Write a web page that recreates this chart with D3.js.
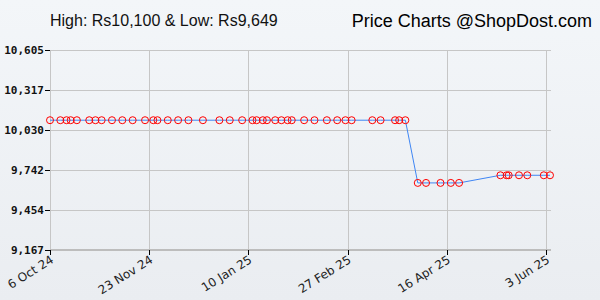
<!DOCTYPE html>
<html>
<head>
<meta charset="utf-8">
<script src="https://cdn.jsdelivr.net/npm/d3@7/dist/d3.min.js"></script>
<style>
  html, body { margin: 0; padding: 0; background: #f0f3f7; }
  svg { display: block; }
</style>
</head>
<body>
<svg id="chart" width="600" height="300"></svg>
<script>
// ---- data ----
const dates = [
  "2024-10-06","2024-10-11","2024-10-14","2024-10-16","2024-10-19","2024-10-25","2024-10-28","2024-10-31",
  "2024-11-05","2024-11-10","2024-11-15","2024-11-21","2024-11-25","2024-11-27",
  "2024-12-02","2024-12-07","2024-12-12","2024-12-19","2024-12-27",
  "2025-01-01","2025-01-07","2025-01-12","2025-01-14","2025-01-17","2025-01-19","2025-01-23","2025-01-26","2025-01-29","2025-01-31",
  "2025-02-06","2025-02-11","2025-02-17","2025-02-22","2025-02-26",
  "2025-03-01","2025-03-11","2025-03-15","2025-03-22","2025-03-24","2025-03-27",
  "2025-04-02","2025-04-06","2025-04-13","2025-04-18","2025-04-22",
  "2025-05-12","2025-05-15","2025-05-16","2025-05-21","2025-05-25",
  "2025-06-02","2025-06-05"
];
const prices = [
  10100,10100,10100,10100,10100,10100,10100,10100,
  10100,10100,10100,10100,10100,10100,
  10100,10100,10100,10100,10100,
  10100,10100,10100,10100,10100,10100,10100,10100,10100,10100,
  10100,10100,10100,10100,10100,
  10100,10100,10100,10100,10100,10100,
  9649,9649,9649,9649,9649,
  9704,9704,9704,9704,9704,
  9704,9704
];
const yTicks = [9166.55, 9454.24, 9741.93, 10029.62, 10317.31, 10605];
const xTickDates = ["2024-10-06","2024-11-23","2025-01-10","2025-02-27","2025-04-16","2025-06-03"];
const titleLeft = "High: Rs10,100 & Low: Rs9,649";
const titleRight = "Price Charts @ShopDost.com";

// ---- drawing ----
const parse = d3.utcParse("%Y-%m-%d");
const fmtDate = d3.utcFormat("%-d %b %y");
const fmtNum = d3.format(",.0f");
const data = dates.map((d, i) => ({ date: parse(d), price: prices[i] }));

const svg = d3.select("#chart");
const defs = svg.append("defs");
const grad = defs.append("linearGradient").attr("id", "bg").attr("x1", 0).attr("y1", 0).attr("x2", 0).attr("y2", 1);
grad.append("stop").attr("offset", "0%").attr("stop-color", "#f3f6f9");
grad.append("stop").attr("offset", "100%").attr("stop-color", "#eaedf1");
svg.append("rect").attr("width", 600).attr("height", 300).attr("fill", "url(#bg)");

const L = 50, R = 550, T = 50, B = 250;
const x = d3.scaleUtc().domain([parse("2024-10-06"), parse("2025-06-05")]).range([L, R]);
const y = d3.scaleLinear().domain([yTicks[0], yTicks[yTicks.length - 1]]).range([B, T]);

// titles
svg.append("text").attr("x", 50).attr("y", 26)
  .attr("font-family", "Liberation Sans, Arial, sans-serif").attr("font-size", 16)
  .attr("fill", "#111").text(titleLeft);
svg.append("text").attr("x", 592).attr("y", 27).attr("text-anchor", "end")
  .attr("font-family", "Liberation Sans, Arial, sans-serif").attr("font-size", 18)
  .attr("fill", "#000").text(titleRight);

// grid
const grid = svg.append("g").attr("stroke", "#c6c6c6").attr("stroke-width", 1).attr("shape-rendering", "crispEdges");
grid.selectAll("line.h").data(yTicks).join("line")
  .attr("x1", L).attr("x2", R + 1)
  .attr("y1", d => Math.round(y(d)) + 0.5).attr("y2", d => Math.round(y(d)) + 0.5);
grid.selectAll("line.v").data(xTickDates.map(parse)).join("line")
  .attr("x1", d => Math.round(x(d)) + 0.5).attr("x2", d => Math.round(x(d)) + 0.5)
  .attr("y1", T).attr("y2", B);

// y axis
const yAxis = svg.append("g").attr("transform", `translate(${L},0)`)
  .call(d3.axisLeft(y).tickValues(yTicks).tickFormat(fmtNum).tickSize(5).tickPadding(1));
yAxis.select(".domain").remove();
yAxis.selectAll(".tick line").attr("stroke", "#000").attr("shape-rendering", "crispEdges");
yAxis.selectAll(".tick text").attr("font-family", "DejaVu Sans Mono, monospace")
  .attr("font-weight", "bold").attr("font-size", 11).attr("fill", "#111");

// x axis
const xAxis = svg.append("g").attr("transform", `translate(0,${B})`)
  .call(d3.axisBottom(x).tickValues(xTickDates.map(parse)).tickFormat(fmtDate).tickSize(5));
xAxis.select(".domain").attr("stroke", "#bdbdbd").attr("stroke-width", 2).attr("d", `M${L},0H${R + 1}`);
xAxis.selectAll(".tick line").attr("stroke", "#000").attr("shape-rendering", "crispEdges");
xAxis.selectAll(".tick text")
  .attr("font-family", "DejaVu Sans, Verdana, sans-serif").attr("font-size", 12).attr("fill", "#222")
  .attr("text-anchor", "end").attr("dy", null).attr("y", 0)
  .attr("transform", "translate(4,12) rotate(-32)");

// line
svg.append("path").datum(data)
  .attr("fill", "none").attr("stroke", "#3f86f4").attr("stroke-width", 1)
  .attr("d", d3.line().x(d => x(d.date)).y(d => y(d.price)));

// markers
svg.append("g").selectAll("circle").data(data).join("circle")
  .attr("cx", d => x(d.date)).attr("cy", d => y(d.price)).attr("r", 3.5)
  .attr("fill", "none").attr("stroke", "#ff0000").attr("stroke-width", 1);
</script>
</body>
</html>
